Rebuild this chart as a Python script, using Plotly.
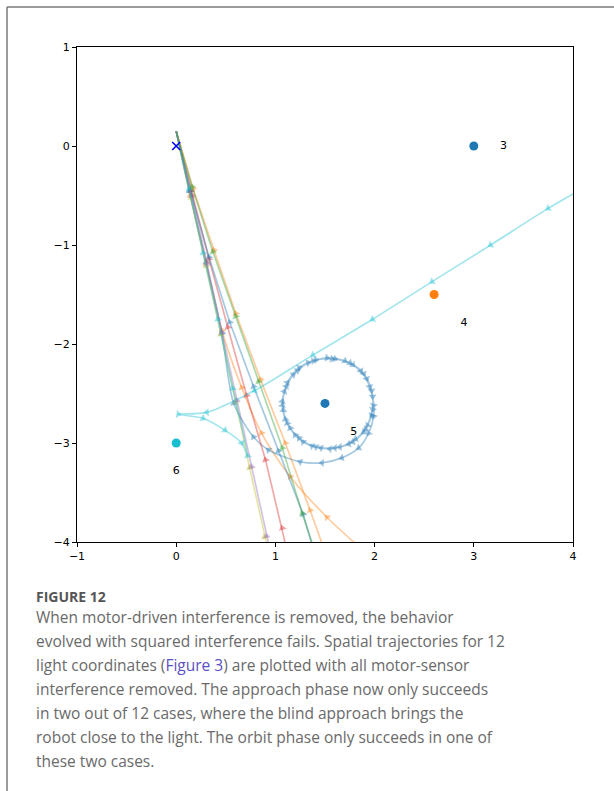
import plotly.graph_objects as go

# ---------------- data ----------------
light_x = [3.0, 2.6, 1.5, 0.0]
light_y = [0.0, -1.5, -2.6, -3.0]
light_labels = ["3", "4", "5", "6"]
label_x = [3.3, 2.9, 1.79, 0.0]
label_y = [0.0, -1.79, -2.89, -3.29]
light_colors = ["#1f77b4", "#ff7f0e", "#1f77b4", "#17becf"]

start_x = [0.0]
start_y = [0.0]

# straight "blind approach" trajectories
green_x = [0.0, 0.16, 0.37, 0.60, 0.83, 1.07, 1.27, 1.40]
green_y = [0.15, -0.41, -1.07, -1.72, -2.38, -3.05, -3.71, -4.10]

orange_x = [0.0, 0.17, 0.38, 0.60, 0.85, 1.10, 1.35, 1.50]
orange_y = [0.15, -0.43, -1.05, -1.69, -2.36, -3.00, -3.68, -4.10]

blue_x = [0.0, 0.14, 0.33, 0.54, 0.78, 1.03, 1.28, 1.39]
blue_y = [0.15, -0.45, -1.12, -1.78, -2.43, -3.08, -3.72, -4.10]

red_x = [0.0, 0.15, 0.33, 0.52, 0.71, 0.90, 1.07, 1.12]
red_y = [0.15, -0.45, -1.14, -1.83, -2.52, -3.17, -3.86, -4.10]

purple_x = [0.0, 0.16, 0.31, 0.46, 0.61, 0.76, 0.91, 0.95]
purple_y = [0.15, -0.50, -1.19, -1.88, -2.57, -3.24, -3.94, -4.10]

olive_x = [0.0, 0.15, 0.30, 0.45, 0.60, 0.74, 0.89, 0.93]
olive_y = [0.15, -0.52, -1.21, -1.90, -2.58, -3.25, -3.95, -4.10]

# curved trajectories
orange2_x = [0.0, 0.14, 0.30, 0.46, 0.66, 0.86, 1.15, 1.52, 1.90]
orange2_y = [0.15, -0.50, -1.18, -1.86, -2.44, -2.90, -3.34, -3.75, -4.10]

cyan_x = [0.0, 0.13, 0.27, 0.42, 0.57, 0.72, 0.66, 0.49, 0.27, 0.02,
          0.31, 0.79, 1.38, 1.98, 2.58, 3.17, 3.75, 4.15]
cyan_y = [0.15, -0.43, -1.08, -1.75, -2.45, -3.13, -3.00, -2.87, -2.75, -2.71,
          -2.69, -2.47, -2.11, -1.75, -1.37, -1.00, -0.63, -0.40]

orbit_x = [0.0, 0.13, 0.30, 0.46, 0.58, 0.78, 0.93, 1.25, 1.47, 1.67, 1.84, 1.94, 1.99,
           1.98, 1.92, 1.78, 1.60, 1.41, 1.24, 1.12, 1.07, 1.10, 1.20, 1.37, 1.55, 1.74, 1.89,
           1.97, 1.99, 1.95, 1.86, 1.70, 1.52, 1.33, 1.18, 1.09, 1.08, 1.15, 1.28, 1.46, 1.65, 1.81, 1.93,
           1.98, 1.97, 1.89, 1.75, 1.57, 1.38, 1.22, 1.11, 1.07, 1.12, 1.24, 1.41, 1.60, 1.78, 1.91, 1.97]
orbit_y = [0.15, -0.45, -1.17, -1.89, -2.60, -2.94, -3.07, -3.19, -3.20, -3.15, -3.05, -2.90, -2.73,
           -2.53, -2.35, -2.21, -2.15, -2.16, -2.24, -2.39, -2.58, -2.76, -2.92, -3.03, -3.06, -3.01, -2.89,
           -2.72, -2.62, -2.43, -2.27, -2.17, -2.14, -2.19, -2.31, -2.48, -2.67, -2.85, -2.99, -3.05, -3.04, -2.96, -2.82,
           -2.66, -2.47, -2.30, -2.19, -2.15, -2.17, -2.27, -2.43, -2.62, -2.80, -2.95, -3.04, -3.05, -2.99, -2.86, -2.70]

x_ticks = [-1, 0, 1, 2, 3, 4]
y_ticks = [-4, -3, -2, -1, 0, 1]

# ---------------- figure ----------------
W, H = 614, 791
L, R, T, B = 77, 573, 47, 542


def px(xp):
    return (xp - L) / (R - L)


def py(yp):
    return (B - yp) / (B - T)


def rgba(hexc, a):
    h = hexc.lstrip("#")
    return "rgba(%d,%d,%d,%s)" % (int(h[0:2], 16), int(h[2:4], 16), int(h[4:6], 16), a)


fig = go.Figure()

trajs = [
    (orange2_x, orange2_y, "#ff7f0e", "spline"),
    (orbit_x, orbit_y, "#1f77b4", "spline"),
    (olive_x, olive_y, "#bcbd22", "linear"),
    (purple_x, purple_y, "#9467bd", "linear"),
    (red_x, red_y, "#d62728", "linear"),
    (blue_x, blue_y, "#1f77b4", "linear"),
    (orange_x, orange_y, "#ff7f0e", "linear"),
    (green_x, green_y, "#2ca02c", "linear"),
    (cyan_x, cyan_y, "#17becf", "spline"),
]

for xs, ys, col, shape in trajs:
    n = len(xs)
    sizes = [0] + [7] * (n - 2) + [0]
    fig.add_trace(go.Scatter(
        x=xs, y=ys, mode="lines+markers",
        line=dict(color=rgba(col, 0.4), width=1.7, shape=shape, smoothing=0.8),
        marker=dict(symbol="triangle-down", size=sizes, angleref="previous",
                    color=rgba(col, 0.6), line=dict(width=0)),
        showlegend=False, hoverinfo="skip", cliponaxis=True,
    ))

fig.add_trace(go.Scatter(
    x=start_x, y=start_y, mode="markers",
    marker=dict(symbol="x-thin", size=8, line=dict(color="#0000ff", width=1.6)),
    showlegend=False, hoverinfo="skip",
))

fig.add_trace(go.Scatter(
    x=light_x, y=light_y, mode="markers",
    marker=dict(symbol="circle", size=9, color=light_colors, line=dict(width=0)),
    showlegend=False, hoverinfo="skip",
))

fig.add_trace(go.Scatter(
    x=label_x, y=label_y, mode="text", text=light_labels,
    textfont=dict(family="DejaVu Sans", size=11, color="#000000"),
    showlegend=False, hoverinfo="skip",
))

axis_common = dict(
    showgrid=False, zeroline=False, showline=True, linecolor="#000000", linewidth=1,
    mirror=True, ticks="outside", ticklen=4, tickwidth=1, tickcolor="#000000",
    tickfont=dict(family="DejaVu Sans", size=11, color="#000000"),
)

fig.update_xaxes(range=[-1, 4], tickvals=x_ticks,
                 ticktext=[str(v).replace("-", "\u2212") for v in x_ticks], **axis_common)
fig.update_yaxes(range=[-4, 1], tickvals=y_ticks,
                 ticktext=[str(v).replace("-", "\u2212") for v in y_ticks], **axis_common)

# page frame
fig.add_shape(type="line", xref="paper", yref="paper",
              x0=px(7), y0=py(H + 5), x1=px(7), y1=py(7),
              line=dict(color="#7a7a7a", width=1.5))
fig.add_shape(type="line", xref="paper", yref="paper",
              x0=px(7), y0=py(7), x1=px(W + 5), y1=py(7),
              line=dict(color="#7a7a7a", width=1.5))

caption_font = "Open Sans"
fig.add_annotation(xref="paper", yref="paper", x=px(34), y=py(596),
                   xanchor="left", yanchor="middle", showarrow=False,
                   text="<b>FIGURE 12</b>",
                   font=dict(family=caption_font, size=14, color="#555555"))

lines = [
    "When motor-driven interference is removed, the behavior",
    "evolved with squared interference fails. Spatial trajectories for 12",
    "light coordinates (<span style='color:#5b4fc4'>Figure 3</span>) are plotted with all motor-sensor",
    "interference removed. The approach phase now only succeeds",
    "in two out of 12 cases, where the blind approach brings the",
    "robot close to the light. The orbit phase only succeeds in one of",
    "these two cases.",
]
for i, t in enumerate(lines):
    fig.add_annotation(xref="paper", yref="paper", x=px(34), y=py(617 + 24 * i),
                       xanchor="left", yanchor="middle", showarrow=False,
                       text=t, font=dict(family=caption_font, size=15.5, color="#6a6a6a"))

fig.update_layout(
    width=W, height=H,
    margin=dict(l=L, r=W - R, t=T, b=H - B, pad=0),
    paper_bgcolor="#ffffff", plot_bgcolor="#ffffff",
)

fig.write_html("out.html")
